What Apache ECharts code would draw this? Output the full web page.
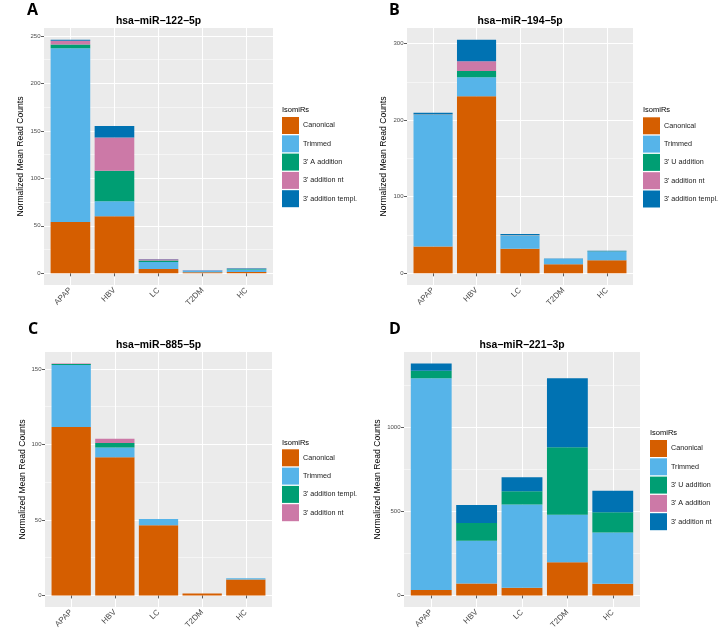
<!DOCTYPE html>
<html><head><meta charset="utf-8">
<script src="https://cdn.jsdelivr.net/npm/echarts@6/dist/echarts.min.js"></script>
<style>html,body{margin:0;padding:0;background:#fff}#c{width:723px;height:644px}</style>
</head><body><div id="c"></div>
<script>
// ---------- data ----------
const categories = ['APAP', 'HBV', 'LC', 'T2DM', 'HC'];

// Panel A: hsa-miR-122-5p
const A_canonical = [54, 60, 4.5, 1.0, 1.3];
const A_trimmed   = [183, 16, 7.5, 2.1, 2.7];
const A_3A        = [4, 32, 1.5, 0.2, 0.5];
const A_nt        = [4, 35, 1.2, 0.1, 0.2];
const A_templ     = [1, 12, 0.3, 0.1, 0.6];
const A_ticks = [0, 50, 100, 150, 200, 250];
const A_minor = [25, 75, 125, 175, 225];

// Panel B: hsa-miR-194-5p
const B_canonical = [35, 231, 32, 12, 17];
const B_trimmed   = [172, 25, 17.5, 7, 11.5];
const B_3U        = [0.3, 8, 0.3, 0, 0.2];
const B_nt        = [0.3, 13, 0.2, 0, 0.1];
const B_templ     = [2, 28, 1.2, 0.2, 0.7];
const B_ticks = [0, 100, 200, 300];
const B_minor = [50, 150, 250];

// Panel C: hsa-miR-885-5p
const C_canonical = [111.5, 91.5, 46.4, 1.2, 10.5];
const C_trimmed   = [41, 6.5, 4.2, 0, 0.8];
const C_templ     = [0.8, 3, 0, 0, 0];
const C_nt        = [0.2, 2.8, 0, 0, 0];
const C_ticks = [0, 50, 100, 150];
const C_minor = [25, 75, 125];

// Panel D: hsa-miR-221-3p
const D_canonical = [32, 71, 45, 198, 69];
const D_trimmed   = [1262, 255, 496, 282, 306];
const D_3U        = [44, 105, 80, 403, 121];
const D_3A        = [0, 0, 0, 0, 0];
const D_nt        = [43, 107, 83, 411, 128];
const D_ticks = [0, 500, 1000];
const D_minor = [250, 750, 1250];

// ---------- styling ----------
const ORANGE = '#D55E00', SKY = '#56B4E9', GREEN = '#009E73', PINK = '#CC79A7', BLUE = '#0072B2';
const FONT = "'Liberation Sans', Arial, sans-serif";

const panels = [
  { letter: 'A', title: 'hsa−miR−122−5p', grid: {left: 44, top: 28, width: 229, height: 257},
    ticks: A_ticks, minor: A_minor, nameGap: 19,
    series: [['Canonical', A_canonical, ORANGE], ['Trimmed', A_trimmed, SKY], ["3' A addition", A_3A, GREEN],
             ["3' addition nt", A_nt, PINK], ["3' addition templ.", A_templ, BLUE]],
    legend: {left: 282, top: 117}, legendTitle: [282, 109.5], letterPos: [27, 10.5], titlePos: [158.5, 21] },
  { letter: 'B', title: 'hsa−miR−194−5p', grid: {left: 407, top: 28, width: 226, height: 257},
    ticks: B_ticks, minor: B_minor, nameGap: 19,
    series: [['Canonical', B_canonical, ORANGE], ['Trimmed', B_trimmed, SKY], ["3' U addition", B_3U, GREEN],
             ["3' addition nt", B_nt, PINK], ["3' addition templ.", B_templ, BLUE]],
    legend: {left: 643, top: 117.3}, legendTitle: [643, 109.5], letterPos: [389, 10.5], titlePos: [520, 21] },
  { letter: 'C', title: 'hsa−miR−885−5p', grid: {left: 45, top: 352, width: 227, height: 255},
    ticks: C_ticks, minor: C_minor, nameGap: 18,
    series: [['Canonical', C_canonical, ORANGE], ['Trimmed', C_trimmed, SKY], ["3' addition templ.", C_templ, GREEN],
             ["3' addition nt", C_nt, PINK]],
    legend: {left: 282, top: 449.3}, legendTitle: [282, 442.5], letterPos: [28, 329], titlePos: [158.5, 345] },
  { letter: 'D', title: 'hsa−miR−221−3p', grid: {left: 404, top: 352, width: 236, height: 255},
    ticks: D_ticks, minor: D_minor, nameGap: 21.5,
    series: [['Canonical', D_canonical, ORANGE], ['Trimmed', D_trimmed, SKY], ["3' U addition", D_3U, GREEN],
             ["3' A addition", D_3A, PINK], ["3' addition nt", D_nt, BLUE]],
    legend: {left: 650, top: 440}, legendTitle: [650, 432.5], letterPos: [389, 329], titlePos: [522, 345] }
];

const grid = [], xAxis = [], yAxis = [], series = [], legend = [], graphic = [];
const catIdx = [1, 2, 3, 4, 5];

panels.forEach((p, i) => {
  grid.push(Object.assign({show: true, backgroundColor: '#EBEBEB', borderWidth: 0, containLabel: false}, p.grid));
  const totals = categories.map((c, k) => p.series.reduce((s, ser) => s + ser[1][k], 0));
  const tmax = Math.max(...totals);
  const ymin = -0.05 * tmax, ymax = tmax * 1.05;
  xAxis.push({
    gridIndex: i, type: 'value', min: 0.4, max: 5.6,
    axisLine: {show: false},
    axisTick: {show: true, length: 3, customValues: catIdx, lineStyle: {color: '#333', width: 0.8}},
    axisLabel: {customValues: catIdx, formatter: v => categories[Math.round(v) - 1], rotate: 45,
                fontSize: 8, color: '#4D4D4D', margin: 4, fontFamily: FONT},
    splitLine: {show: true, lineStyle: {color: '#FFFFFF', width: 1}}
  });
  yAxis.push({
    gridIndex: i, type: 'value', min: ymin, max: ymax, position: 'left',
    axisLine: {show: false},
    axisTick: {show: true, length: 3, customValues: p.ticks, lineStyle: {color: '#333', width: 0.8}},
    axisLabel: {customValues: p.ticks, formatter: v => String(Math.round(v)), fontSize: 6, color: '#4D4D4D', margin: 3.5, fontFamily: FONT},
    splitLine: {show: true, lineStyle: {color: '#FFFFFF', width: 1.1}},
    name: 'Normalized Mean Read Counts', nameLocation: 'middle', nameGap: p.nameGap,
    nameTextStyle: {fontSize: 8.6, color: '#000', fontFamily: FONT}
  });
  yAxis.push({
    gridIndex: i, type: 'value', min: ymin, max: ymax, position: 'left',
    axisLine: {show: false},
    axisTick: {show: false, customValues: p.minor},
    axisLabel: {show: false, customValues: p.minor},
    splitLine: {show: true, lineStyle: {color: '#FFFFFF', width: 0.5}}
  });
  const bw = 0.9 * p.grid.width / 5.2;
  p.series.forEach(([name, vals, color]) => {
    series.push({
      type: 'bar', name, xAxisIndex: i, yAxisIndex: i * 2, stack: 'panel' + i,
      barWidth: bw, itemStyle: {color}, emphasis: {disabled: true},
      // value first (stacked dimension), category position second
      encode: {x: 1, y: 0},
      data: vals.map((v, k) => [v, k + 1])
    });
  });
  legend.push({
    orient: 'vertical', left: p.legend.left, top: p.legend.top, padding: 0,
    itemWidth: 17, itemHeight: 17, itemGap: 1.3, icon: 'rect', selectedMode: false,
    textStyle: {fontSize: 7.2, color: '#1A1A1A', fontFamily: FONT, padding: [0, 0, 0, -1]},
    data: p.series.map(([name, vals, color]) => ({name, itemStyle: {color}, icon: 'rect'}))
  });
  graphic.push({type: 'text', x: p.letterPos[0], y: p.letterPos[1],
    style: {text: p.letter, fontSize: 16, fontWeight: 'bold', fontFamily: "'Open Sans', sans-serif",
            fill: '#000', align: 'left', verticalAlign: 'middle'}});
  graphic.push({type: 'text', x: p.titlePos[0], y: p.titlePos[1],
    style: {text: p.title, fontSize: 10.4, fontWeight: 'bold', fontFamily: FONT,
            fill: '#000', align: 'center', verticalAlign: 'middle'}});
  graphic.push({type: 'text', x: p.legendTitle[0], y: p.legendTitle[1],
    style: {text: 'IsomiRs', fontSize: 7.5, fontFamily: FONT,
            fill: '#000', align: 'left', verticalAlign: 'middle'}});
});

const chart = echarts.init(document.getElementById('c'), null, {renderer: 'canvas'});
chart.setOption({
  animation: false,
  backgroundColor: '#FFFFFF',
  textStyle: {fontFamily: FONT},
  grid, xAxis, yAxis, series, legend, graphic
});
</script>
</body></html>
